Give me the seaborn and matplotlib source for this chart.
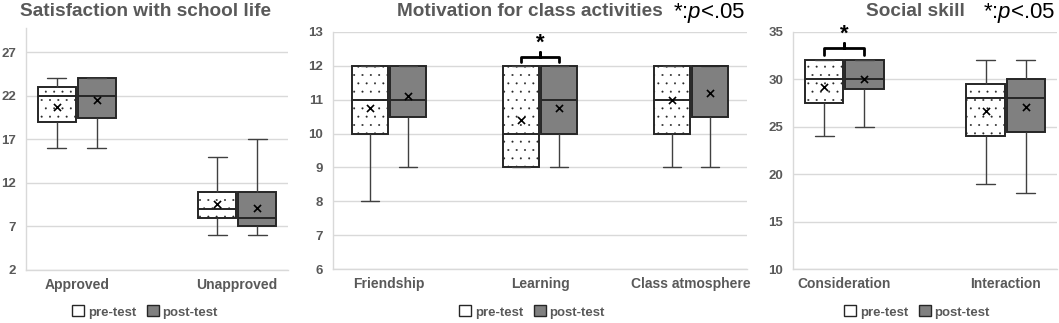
import numpy as np
import matplotlib.pyplot as plt
import pandas as pd
import seaborn as sns
from matplotlib.patches import Patch

sns.set_theme(style='whitegrid')
plt.rcParams['font.family'] = ['Liberation Sans', 'DejaVu Sans']
plt.rcParams['mathtext.fontset'] = 'custom'
plt.rcParams['mathtext.rm'] = 'Liberation Sans'
plt.rcParams['mathtext.it'] = 'Liberation Sans:italic'
plt.rcParams['hatch.linewidth'] = 0.2

# =========================
# DATA
# =========================
tests = ['pre-test', 'post-test']

# five-number summaries per box: [min, Q1, median, Q3, max]
satisfaction_cats = ['Approved', 'Unapproved']
satisfaction_pre = [[16, 19, 22, 23, 24], [6, 8, 9, 11, 15]]
satisfaction_post = [[16, 19.5, 22, 24, 24], [6, 7, 8, 11, 17]]
satisfaction_pre_mean = [20.7, 9.6]
satisfaction_post_mean = [21.5, 9.1]

motivation_cats = ['Friendship', 'Learning', 'Class atmosphere']
motivation_pre = [[8, 10, 11, 12, 12], [9, 9, 10, 12, 12], [9, 10, 11, 12, 12]]
motivation_post = [[9, 10.5, 11, 12, 12], [9, 10, 11, 12, 12], [9, 10.5, 12, 12, 12]]
motivation_pre_mean = [10.75, 10.4, 11.0]
motivation_post_mean = [11.1, 10.75, 11.2]

social_cats = ['Consideration', 'Interaction']
social_pre = [[24, 27.5, 30, 32, 32], [19, 24, 28, 29.5, 32]]
social_post = [[25, 29, 30, 32, 32], [18, 24.5, 28, 30, 32]]
social_pre_mean = [29.2, 26.7]
social_post_mean = [30.0, 27.1]

# =========================
# STYLE
# =========================
text_gray = '#595959'
grid_gray = '#d9d9d9'
edge_dark = '#262626'
post_fill = '#808080'


def to_long(cats, pre, post):
    rows = []
    for cat, p, q in zip(cats, pre, post):
        rows += [(cat, 'pre-test', v) for v in p]
        rows += [(cat, 'post-test', v) for v in q]
    return pd.DataFrame(rows, columns=['category', 'test', 'score'])


def draw_panel(ax, cats, pre, post, pre_mean, post_mean, ylim, yticks):
    df = to_long(cats, pre, post)
    sns.boxplot(
        data=df, x='category', y='score', hue='test',
        order=cats, hue_order=tests,
        palette={'pre-test': 'white', 'post-test': post_fill},
        saturation=1, whis=(0, 100), width=0.5, gap=0.05,
        linecolor=edge_dark, linewidth=1.4, legend=False, ax=ax,
        whiskerprops=dict(color='#404040', linewidth=1.0),
        capprops=dict(color='#404040', linewidth=1.0),
    )
    for p in ax.patches:
        fc = p.get_facecolor()
        if fc[0] > 0.95 and fc[1] > 0.95:
            p.set_hatch('..')

    idx = np.arange(len(cats))
    ax.scatter(idx - 0.125, pre_mean, marker='x', color='black', s=26,
               linewidths=1.2, zorder=5)
    ax.scatter(idx + 0.125, post_mean, marker='x', color='black', s=26,
               linewidths=1.2, zorder=5)

    ax.set_ylim(*ylim)
    ax.set_yticks(yticks)
    ax.set_xlabel('')
    ax.set_ylabel('')
    ax.grid(axis='y', color=grid_gray, linewidth=1)
    ax.grid(axis='x', visible=False)
    for s in ['top', 'right']:
        ax.spines[s].set_visible(False)
    for s in ['left', 'bottom']:
        ax.spines[s].set_color(grid_gray)
        ax.spines[s].set_linewidth(1)
    ax.tick_params(axis='y', length=0, pad=7, labelsize=9.5, labelcolor=text_gray)
    ax.tick_params(axis='x', length=0, pad=6, labelsize=10, labelcolor=text_gray)
    for lbl in ax.get_xticklabels() + ax.get_yticklabels():
        lbl.set_fontweight('bold')


def bracket(ax, i, y_end, y_line, y_tip, y_star):
    x0, x1 = i - 0.125, i + 0.125
    ax.plot([x0, x0, i, i, i, x1, x1],
            [y_end, y_line, y_line, y_tip, y_line, y_line, y_end],
            color='black', linewidth=2, solid_joinstyle='round', zorder=6,
            clip_on=False)
    ax.text(i, y_star, '*', ha='center', va='center', fontsize=16,
            fontweight='bold', color='black', clip_on=False)


# =========================
# PLOTTING
# =========================
fig = plt.figure(figsize=(10.59, 3.23), dpi=100)
W, H = 1059, 323


def add_axes(left, right, top, bottom):
    return fig.add_axes([left / W, 1 - bottom / H, (right - left) / W, (bottom - top) / H])


ax1 = add_axes(26, 288, 28, 270)
ax2 = add_axes(333, 747, 32, 269)
ax3 = add_axes(793, 1057, 32, 269)

draw_panel(ax1, satisfaction_cats, satisfaction_pre, satisfaction_post,
           satisfaction_pre_mean, satisfaction_post_mean, (2, 29.8), np.arange(2, 28, 5))
draw_panel(ax2, motivation_cats, motivation_pre, motivation_post,
           motivation_pre_mean, motivation_post_mean, (6, 13), np.arange(6, 14, 1))
draw_panel(ax3, social_cats, social_pre, social_post,
           social_pre_mean, social_post_mean, (10, 35), np.arange(10, 36, 5))

bracket(ax2, 1, 12.1, 12.27, 12.42, 12.68)
bracket(ax3, 0, 32.6, 33.3, 33.8, 34.8)

title_kw = dict(ha='center', va='center', fontsize=13.7, fontweight='bold', color=text_gray)
fig.text(145 / W, 1 - 11 / H, 'Satisfaction with school life', **title_kw)
fig.text(530 / W, 1 - 11 / H, 'Motivation for class activities', **title_kw)
fig.text(915 / W, 1 - 11 / H, 'Social skill', **title_kw)

sig_kw = dict(ha='right', va='center', fontsize=16, color='black')
fig.text(745 / W, 1 - 13 / H, '*:$p$<.05', **sig_kw)
fig.text(1055 / W, 1 - 13 / H, '*:$p$<.05', **sig_kw)

handles = [Patch(facecolor='white', edgecolor=edge_dark, label='pre-test'),
           Patch(facecolor=post_fill, edgecolor=edge_dark, label='post-test')]
for cx in [145, 532, 917]:
    leg = fig.legend(handles=handles, loc='center', bbox_to_anchor=(cx / W, 1 - 312 / H),
                     ncol=2, frameon=False, handlelength=0.9, handleheight=0.9,
                     handletextpad=0.3, columnspacing=0.8,
                     prop=dict(size=9.5, weight='bold'))
    for t in leg.get_texts():
        t.set_color(text_gray)

fig.savefig('out.png', dpi=100)
